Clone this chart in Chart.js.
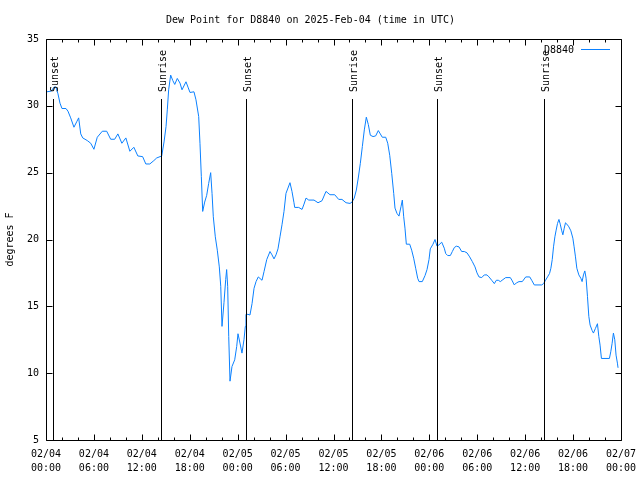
<!DOCTYPE html>
<html>
<head>
<meta charset="utf-8">
<script src="https://cdn.jsdelivr.net/npm/chart.js@4/dist/chart.umd.min.js"></script>
<style>
  body { margin: 0; background: #fff; }
  canvas { display: block; }
</style>
</head>
<body>
<canvas id="dewChart" width="640" height="480"></canvas>
<script>
// hours since 2025-02-04 00:00 UTC
const hours = [
  0.09, 0.66, 1.0, 1.25, 1.5, 1.75, 2.0, 2.5, 2.75, 3.09, 3.5, 3.84, 4.09, 4.35, 4.6,
  5.17, 5.6, 6.0, 6.42, 7.05, 7.6, 8.1, 8.6, 9.0, 9.5, 10.0, 10.5, 11.0, 11.5, 12.1,
  12.5, 13.0, 13.5, 13.86, 14.49, 14.78, 15.03, 15.19, 15.36, 15.61, 15.87, 16.12, 16.44, 16.78, 17.03,
  17.53, 17.78, 18.03, 18.53, 18.78, 19.12, 19.28, 19.45, 19.62, 19.87, 20.12, 20.37, 20.62, 20.79, 20.95,
  21.2, 21.45, 21.7, 21.88, 22.04, 22.29, 22.5, 22.62, 22.75, 22.88, 23.04, 23.29, 23.63, 23.88, 24.04,
  24.29, 24.54, 24.79, 24.96, 25.04, 25.29, 25.54, 25.8, 26.05, 26.3, 26.58, 27.05, 27.3, 27.64, 28.05,
  28.3, 28.55, 28.8, 29.05, 29.3, 29.55, 29.8, 30.05, 30.3, 30.55, 30.8, 31.05, 31.14, 31.64, 32.06,
  32.31, 32.56, 32.9, 33.56, 34.06, 34.56, 35.06, 35.56, 36.15, 36.65, 37.06, 37.57, 38.07, 38.32, 38.6,
  38.86, 39.1, 39.36, 39.61, 39.86, 40.11, 40.36, 40.61, 40.95, 41.28, 41.61, 41.86, 42.11, 42.54, 42.79,
  43.04, 43.29, 43.54, 43.7, 43.95, 44.2, 44.45, 44.62, 44.79, 44.95, 45.12, 45.54, 45.79, 46.04, 46.29,
  46.54, 46.71, 47.12, 47.46, 47.71, 47.96, 48.12, 48.46, 48.71, 48.96, 49.21, 49.55, 49.87, 50.05, 50.3,
  50.63, 50.88, 51.13, 51.38, 51.71, 52.05, 52.38, 52.72, 53.05, 53.38, 53.72, 53.97, 54.22, 54.56, 54.88,
  55.22, 55.47, 55.81, 56.14, 56.39, 56.64, 56.89, 57.22, 57.56, 58.14, 58.39, 58.64, 58.89, 59.23, 59.64,
  60.07, 60.57, 60.82, 61.14, 62.07, 62.3, 62.55, 62.8, 63.05, 63.22, 63.39, 63.55, 63.72, 63.88, 64.05,
  64.23, 64.39, 64.56, 64.72, 64.89, 65.05, 65.22, 65.47, 65.72, 65.97, 66.13, 66.3, 66.47, 66.72, 66.97,
  67.13, 67.3, 67.47, 67.63, 67.8, 67.97, 68.13, 68.38, 68.55, 68.8, 69.05, 69.22, 69.38, 69.55, 70.55,
  70.72, 70.88, 71.05, 71.22, 71.38, 71.55, 71.63
];
const dewPoint = [
  31.05, 31.1, 31.4, 31.4, 30.9, 30.2, 29.8, 29.8, 29.6, 29.1, 28.4, 28.8, 29.1, 27.9, 27.6,
  27.4, 27.2, 26.75, 27.65, 28.1, 28.1, 27.5, 27.5, 27.9, 27.2, 27.6, 26.6, 26.9, 26.25, 26.2,
  25.65, 25.65, 25.9, 26.1, 26.25, 27.3, 28.45, 29.7, 31.2, 32.3, 31.9, 31.6, 32.05, 31.7, 31.2,
  31.8, 31.4, 31.0, 31.05, 30.45, 29.2, 27.2, 24.7, 22.1, 22.8, 23.3, 24.2, 25.0, 23.45, 21.7,
  20.2, 19.2, 17.95, 16.5, 13.5, 15.3, 17.0, 17.75, 16.5, 12.75, 9.4, 10.5, 11.0, 12.0, 12.95,
  12.25, 11.5, 12.5, 13.5, 14.4, 14.4, 14.35, 15.2, 16.35, 16.85, 17.2, 16.95, 17.6, 18.5, 19.1,
  18.85, 18.55, 18.85, 19.3, 20.2, 21.1, 22.1, 23.45, 23.85, 24.25, 23.6, 22.75, 22.4, 22.4, 22.25,
  22.65, 23.1, 22.95, 22.95, 22.75, 22.9, 23.6, 23.35, 23.35, 23.0, 23.0, 22.75, 22.7, 22.8, 23.1,
  23.7, 24.6, 25.7, 26.95, 28.2, 29.15, 28.6, 27.8, 27.7, 27.75, 28.15, 27.9, 27.65, 27.65, 27.2,
  26.3, 24.95, 23.45, 22.35, 21.95, 21.75, 22.45, 22.95, 21.7, 20.85, 19.65, 19.65, 19.2, 18.6, 17.85,
  17.1, 16.85, 16.85, 17.3, 17.75, 18.5, 19.3, 19.65, 20.0, 19.5, 19.6, 19.8, 19.35, 18.95, 18.8,
  18.8, 19.1, 19.4, 19.5, 19.45, 19.1, 19.1, 19.0, 18.7, 18.35, 17.95, 17.5, 17.2, 17.15, 17.35,
  17.35, 17.2, 16.95, 16.7, 16.95, 16.95, 16.85, 17.0, 17.15, 17.15, 16.9, 16.6, 16.75, 16.85, 16.85,
  17.2, 17.2, 16.95, 16.6, 16.6, 16.7, 16.95, 17.2, 17.45, 17.85, 18.5, 19.45, 20.2, 20.7, 21.2,
  21.5, 21.15, 20.7, 20.35, 20.85, 21.25, 21.15, 20.95, 20.65, 20.1, 19.45, 18.7, 17.85, 17.35, 17.1,
  16.85, 17.35, 17.65, 17.1, 15.75, 14.25, 13.6, 13.2, 13.0, 13.35, 13.7, 12.75, 12.1, 11.1, 11.1,
  11.6, 12.2, 13.0, 12.5, 11.35, 10.75, 10.4
];

const sunHours = [0.91, 14.44, 25.0, 38.35, 49.0, 62.36];
const sunLabels = ["Sunset", "Sunrise", "Sunset", "Sunrise", "Sunset", "Sunrise"];

const xTickDates = ["02/04", "02/04", "02/04", "02/04", "02/05", "02/05", "02/05",
  "02/05", "02/06", "02/06", "02/06", "02/06", "02/07"];
const xTickTimes = ["00:00", "06:00", "12:00", "18:00", "00:00", "06:00", "12:00",
  "18:00", "00:00", "06:00", "12:00", "18:00", "00:00"];
const yTicks = [5, 10, 15, 20, 25, 30, 35];

const MONO = "'DejaVu Sans Mono', monospace";
const lineColor = "rgb(10,128,255)";

// frame, inward ticks, sunrise/sunset markers and legend, gnuplot style
const gnuplotDecor = {
  id: "gnuplotDecor",
  afterDatasetsDraw(chart) {
    const ctx = chart.ctx;
    const a = chart.chartArea;
    const xs = chart.scales.x;
    const ys = chart.scales.y;
    const L = Math.round(a.left) + 0.5;
    const R = Math.round(a.right) + 0.5;
    const T = Math.round(a.top) + 0.5;
    const B = Math.round(a.bottom) + 0.5;

    ctx.save();
    ctx.strokeStyle = "#000";
    ctx.lineWidth = 1;
    ctx.beginPath();
    ctx.rect(L, T, R - L, B - T);

    for (let h = 0; h <= 72; h += 2) {
      const x = Math.round(xs.getPixelForValue(h)) + 0.5;
      const len = h % 6 === 0 ? 6 : 3;
      ctx.moveTo(x, B); ctx.lineTo(x, B - len);
      ctx.moveTo(x, T); ctx.lineTo(x, T + len);
    }
    yTicks.forEach((v) => {
      const y = Math.round(ys.getPixelForValue(v)) + 0.5;
      ctx.moveTo(L, y); ctx.lineTo(L + 6, y);
      ctx.moveTo(R, y); ctx.lineTo(R - 6, y);
    });
    ctx.stroke();

    // sun lines
    ctx.font = "10px " + MONO;
    ctx.fillStyle = "#000";
    sunHours.forEach((h, i) => {
      const x = Math.round(xs.getPixelForValue(h)) + 0.5;
      ctx.beginPath();
      ctx.moveTo(x, 99);
      ctx.lineTo(x, B);
      ctx.stroke();
      ctx.save();
      ctx.translate(x + 4, 92);
      ctx.rotate(-Math.PI / 2);
      ctx.textAlign = "left";
      ctx.textBaseline = "alphabetic";
      ctx.fillText(sunLabels[i], 0, 0);
      ctx.restore();
    });

    // legend
    ctx.textAlign = "right";
    ctx.textBaseline = "middle";
    ctx.fillText("D8840", 574, 50);
    ctx.strokeStyle = lineColor;
    ctx.beginPath();
    ctx.moveTo(581, 49.5);
    ctx.lineTo(610, 49.5);
    ctx.stroke();
    ctx.restore();
  }
};

const ctx = document.getElementById("dewChart").getContext("2d");
new Chart(ctx, {
  type: "line",
  data: {
    datasets: [
      {
        label: "D8840",
        data: hours.map((h, i) => ({ x: h, y: dewPoint[i] })),
        borderColor: lineColor,
        borderWidth: 1,
        pointRadius: 0,
        tension: 0,
        fill: false,
      },
    ],
  },
  options: {
    responsive: false,
    animation: false,
    layout: { padding: { left: 0, right: 19, top: 0, bottom: 0 } },
    scales: {
      x: {
        type: "linear",
        min: 0,
        max: 72,
        grid: { display: false, drawTicks: false },
        border: { display: false },
        ticks: {
          stepSize: 6,
          autoSkip: false,
          maxRotation: 0,
          padding: 7,
          color: "#000",
          font: { family: MONO, size: 10, lineHeight: "14px" },
          callback: (v) => [xTickDates[v / 6], xTickTimes[v / 6]],
        },
        afterFit: (s) => {
          s.height = 40;
          s.paddingLeft = 0;
          s.paddingRight = 0;
        },
      },
      y: {
        min: 5,
        max: 35,
        grid: { display: false, drawTicks: false },
        border: { display: false },
        ticks: {
          stepSize: 5,
          padding: 7,
          color: "#000",
          font: { family: MONO, size: 10 },
        },
        title: {
          display: true,
          text: "degrees F",
          color: "#000",
          font: { family: MONO, size: 10 },
          padding: { top: 4, bottom: 0 },
        },
        afterFit: (s) => { s.width = 46; },
      },
    },
    plugins: {
      legend: { display: false },
      tooltip: { enabled: false },
      title: {
        display: true,
        text: "Dew Point for D8840 on 2025-Feb-04 (time in UTC)",
        color: "#000",
        font: { family: MONO, size: 10, weight: "normal" },
        padding: { top: 14, bottom: 13 },
      },
    },
  },
  plugins: [gnuplotDecor],
});
</script>
</body>
</html>
